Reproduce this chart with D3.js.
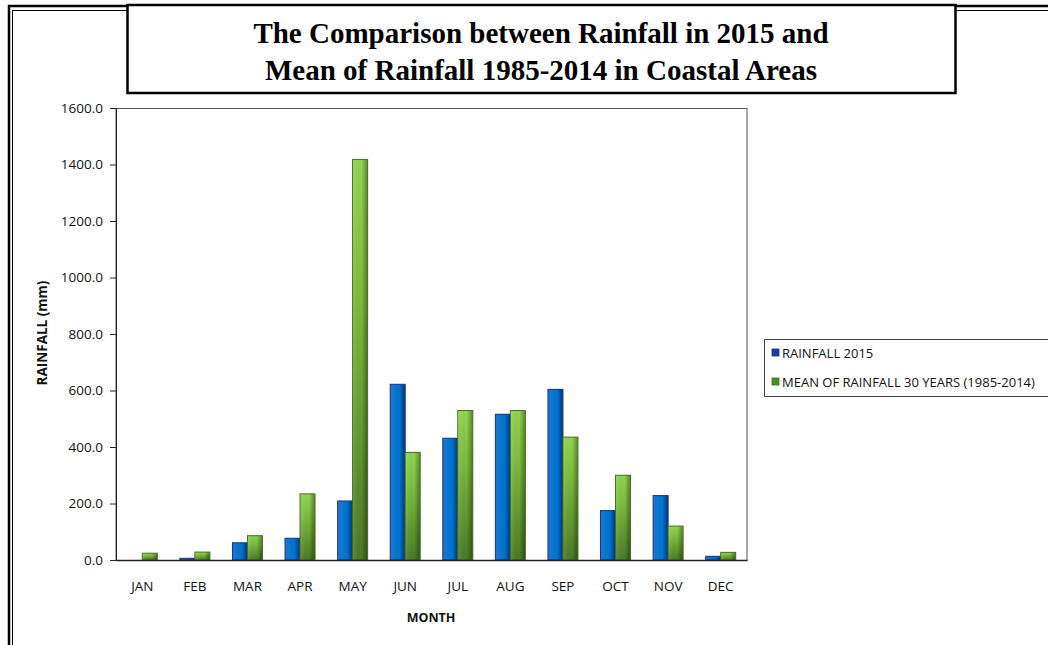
<!DOCTYPE html>
<html>
<head>
<meta charset="utf-8">
<script src="https://cdn.jsdelivr.net/npm/d3@7"></script>
<style>
  html, body { margin: 0; padding: 0; background: #fff; }
  svg { display: block; }
</style>
</head>
<body>
<script>
// Monthly rainfall (mm) in coastal areas
const months = ["JAN","FEB","MAR","APR","MAY","JUN","JUL","AUG","SEP","OCT","NOV","DEC"];
const rainfall2015 = [0, 6, 61, 77, 209, 622, 431, 516, 604, 175, 228, 13];
const mean30Years = [24, 28, 86, 234, 1418, 381, 529, 529, 435, 300, 120, 27];
const seriesNames = ["RAINFALL 2015", "MEAN OF RAINFALL 30 YEARS (1985-2014)"];
const yTicks = [0, 200, 400, 600, 800, 1000, 1200, 1400, 1600];
const titleLines = ["The Comparison between Rainfall in 2015 and", "Mean of Rainfall 1985-2014 in Coastal Areas"];

const W = 1048, H = 645;
const plot = { left: 116, right: 747, top: 108, bottom: 560 };
const labelFont = "'Open Sans', 'Noto Sans', sans-serif";

const svg = d3.select("body").append("svg").attr("width", W).attr("height", H);

// Gradients for the bars
const defs = svg.append("defs");
const gBlue = defs.append("linearGradient").attr("id", "gBlue").attr("x1", 0).attr("x2", 1).attr("y1", 0).attr("y2", 0);
[["0%", "#0a5cc0"], ["25%", "#0077d6"], ["70%", "#0073d2"], ["100%", "#0658b4"]].forEach(([o, c]) => gBlue.append("stop").attr("offset", o).attr("stop-color", c));
const gGreen = defs.append("linearGradient").attr("id", "gGreen").attr("x1", 0).attr("x2", 0).attr("y1", 0).attr("y2", 1);
[["0%", "#93d650"], ["35%", "#7cbc3c"], ["100%", "#4a7a24"]].forEach(([o, c]) => gGreen.append("stop").attr("offset", o).attr("stop-color", c));
const gShade = defs.append("linearGradient").attr("id", "gShade").attr("x1", 0).attr("x2", 1).attr("y1", 0).attr("y2", 0);
[["0%", "rgba(255,255,255,0.12)"], ["60%", "rgba(0,0,0,0)"], ["100%", "rgba(0,0,0,0.35)"]].forEach(([o, c]) => gShade.append("stop").attr("offset", o).attr("stop-color", c));

// Page frame (double rule)
svg.append("rect").attr("x", 9).attr("y", 6).attr("width", W + 20).attr("height", H + 20)
  .attr("fill", "none").attr("stroke", "#000").attr("stroke-width", 2.5);
svg.append("rect").attr("x", 12.5).attr("y", 10.5).attr("width", W + 20).attr("height", H + 20)
  .attr("fill", "none").attr("stroke", "#000").attr("stroke-width", 1);

// Title box
svg.append("rect").attr("x", 127.5).attr("y", 5).attr("width", 828).attr("height", 88)
  .attr("fill", "#fff").attr("stroke", "#000").attr("stroke-width", 2.5);
svg.append("g").selectAll("text").data(titleLines).join("text")
  .attr("x", 541).attr("y", (d, i) => 43 + i * 37)
  .attr("text-anchor", "middle")
  .attr("font-family", "'Liberation Serif', 'Times New Roman', serif")
  .attr("font-weight", "bold").attr("font-size", 29)
  .text(d => d);

// Scales
const x0 = d3.scaleBand().domain(months).range([plot.left, plot.right]).paddingInner(0).paddingOuter(0);
const barW = 15;
const y = d3.scaleLinear().domain([0, 1600]).range([plot.bottom, plot.top]);

// Plot border
svg.append("rect").attr("x", plot.left).attr("y", plot.top + 0.5)
  .attr("width", plot.right - plot.left).attr("height", plot.bottom - plot.top)
  .attr("fill", "none").attr("stroke", "#555").attr("stroke-width", 1);

// Bars
const groups = svg.append("g").selectAll("g").data(months).join("g")
  .attr("transform", d => `translate(${x0(d) + x0.bandwidth() / 2},0)`);

function drawBars(values, offset, fill, stroke) {
  groups.each(function (m, i) {
    const v = values[i];
    if (v <= 0) return;
    const g = d3.select(this);
    const top = y(v), h = y(0) - y(v);
    g.append("rect").attr("x", offset).attr("y", top).attr("width", barW).attr("height", h)
      .attr("fill", fill).attr("stroke", stroke).attr("stroke-width", 1);
    g.append("rect").attr("x", offset + 0.5).attr("y", top + 0.5).attr("width", barW - 1).attr("height", Math.max(0, h - 1))
      .attr("fill", "url(#gShade)");
  });
}
drawBars(rainfall2015, -barW, "url(#gBlue)", "#1c2f7c");
drawBars(mean30Years, 0, "url(#gGreen)", "#3f6e1e");

// Axes
const yAxis = d3.axisLeft(y).tickValues(yTicks).tickSize(6).tickPadding(7).tickFormat(d3.format(".1f"));
const yG = svg.append("g").attr("transform", `translate(${plot.left},0)`).call(yAxis);
yG.select(".domain").attr("stroke", "#222");
yG.selectAll(".tick line").attr("stroke", "#222");
yG.selectAll(".tick text").attr("font-family", labelFont).attr("font-size", 13.5).attr("fill", "#111");

const xAxis = d3.axisBottom(x0).tickSize(0).tickPadding(21);
const xG = svg.append("g").attr("transform", `translate(0,${plot.bottom})`).call(xAxis);
xG.select(".domain").attr("stroke", "#222").attr("stroke-width", 1.5);
xG.selectAll(".tick text").attr("font-family", labelFont).attr("font-size", 13.5).attr("fill", "#111");

// Axis titles
svg.append("text").attr("x", 431).attr("y", 622).attr("text-anchor", "middle")
  .attr("font-family", labelFont).attr("font-weight", "bold").attr("font-size", 12.5).attr("fill", "#111")
  .text("MONTH");
svg.append("text").attr("transform", "translate(47,333) rotate(-90)").attr("text-anchor", "middle")
  .attr("font-family", labelFont).attr("font-weight", "bold").attr("font-size", 13.5).attr("fill", "#111")
  .text("RAINFALL (mm)");

// Legend
svg.append("rect").attr("x", 764.5).attr("y", 339.5).attr("width", 300).attr("height", 57)
  .attr("fill", "#fff").attr("stroke", "#444").attr("stroke-width", 1);
const legendFill = ["#1a3f9a", "#4e8a22"];
const lg = svg.append("g").selectAll("g").data(seriesNames).join("g")
  .attr("transform", (d, i) => `translate(772,${353 + i * 29})`);
lg.append("rect").attr("x", 0).attr("y", -4).attr("width", 7).attr("height", 7)
  .attr("fill", (d, i) => legendFill[i]).attr("stroke", (d, i) => i ? "#3f6e1e" : "#1c2f7c").attr("stroke-width", 0.8);
lg.append("text").attr("x", 10).attr("y", 4.5)
  .attr("font-family", labelFont).attr("font-size", 13).attr("fill", "#111")
  .text(d => d);
</script>
</body>
</html>
